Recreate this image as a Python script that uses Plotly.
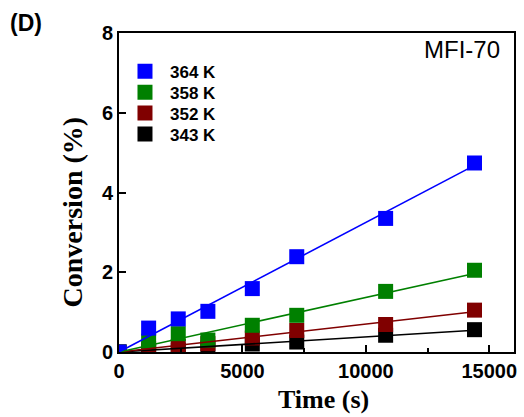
import plotly.graph_objects as go

# Sampling times (s) and measured conversion (%) at each temperature
time_s = [0, 1200, 2400, 3600, 5400, 7200, 10800, 14400]
conv_364 = [0, 0.60, 0.83, 1.02, 1.59, 2.39, 3.35, 4.74]
conv_358 = [0, 0.27, 0.46, 0.30, 0.67, 0.92, 1.52, 2.05]
conv_352 = [0, 0.08, 0.14, 0.21, 0.35, 0.54, 0.69, 1.05]
conv_343 = [0, 0.02, 0.05, 0.10, 0.20, 0.25, 0.42, 0.56]

# Linear fits through the origin: end points at the last sampling time
fit_time = [0, 14400]
fit_364 = [0, 4.68]
fit_358 = [0, 1.97]
fit_352 = [0, 1.01]
fit_343 = [0, 0.545]

x_ticks = [0, 5000, 10000, 15000]
y_ticks = [0, 2, 4, 6, 8]

labels = ["343 K", "352 K", "358 K", "364 K"]
colors = ["#000000", "#800000", "#008000", "#0000FF"]
series = [conv_343, conv_352, conv_358, conv_364]
fits = [fit_343, fit_352, fit_358, fit_364]
legend_ids = ["legend4", "legend3", "legend2", "legend"]

SANS = "Liberation Sans, Arial, sans-serif"
SERIF = "Liberation Serif, Times New Roman, serif"

fig = go.Figure()

# markers first (coolest at the bottom), fit lines on top
for lab, col, ys, lg in zip(labels, colors, series, legend_ids):
    fig.add_trace(go.Scatter(
        x=time_s, y=ys, mode="markers", name=lab, legend=lg,
        marker=dict(symbol="square", size=15, color=col, line=dict(width=0)),
    ))
for col, fy in zip(colors, fits):
    fig.add_trace(go.Scatter(
        x=fit_time, y=fy, mode="lines", showlegend=False,
        line=dict(color=col, width=1.6),
    ))

axis_common = dict(
    showline=True, linewidth=2, linecolor="black", mirror=True,
    ticks="inside", ticklen=7, tickwidth=1.5, tickcolor="black",
    showgrid=False, zeroline=False,
    tickfont=dict(family=SANS, size=20, color="black", weight="bold"),
)

fig.update_xaxes(range=[0, 16000], tickvals=x_ticks, tickformat="d",
                 minor=dict(ticks="inside", dtick=2500, ticklen=4,
                            tickwidth=1.5, tickcolor="black", showgrid=False),
                 **axis_common)
fig.update_yaxes(range=[0, 8], tickvals=y_ticks, **axis_common)

# one single-entry legend per temperature so the rows sit where wanted
row_y = [0.879, 0.813, 0.748, 0.682]
legend_font = dict(family=SANS, size=17, color="black", weight="bold")
legend_layout = {}
for key, yy in zip(["legend", "legend2", "legend3", "legend4"], row_y):
    legend_layout[key] = dict(x=0.0025, xanchor="left", y=yy, yanchor="middle",
                              itemwidth=40, font=legend_font,
                              bgcolor="rgba(0,0,0,0)", borderwidth=0)

fig.update_layout(
    width=524, height=417,
    margin=dict(l=119, r=7, t=33, b=65),
    paper_bgcolor="white", plot_bgcolor="white",
    **legend_layout,
    annotations=[
        dict(text="MFI-70", xref="paper", yref="paper", x=0.970, y=0.947,
             xanchor="right", yanchor="middle", showarrow=False,
             font=dict(family=SANS, size=24, color="black")),
        dict(text="(D)", xref="paper", yref="paper", x=-0.281, y=1.030,
             xanchor="left", yanchor="middle", showarrow=False,
             font=dict(family=SANS, size=23, color="black", weight="bold")),
        dict(text="Conversion (%)", xref="paper", yref="paper", x=-0.117, y=0.44,
             xanchor="center", yanchor="middle", textangle=-90, showarrow=False,
             font=dict(family=SERIF, size=28, color="black", weight="bold")),
        dict(text="Time (s)", xref="paper", yref="paper", x=0.518, y=-0.15,
             xanchor="center", yanchor="middle", showarrow=False,
             font=dict(family=SERIF, size=26, color="black", weight="bold")),
    ],
)

fig.write_html("out.html")
